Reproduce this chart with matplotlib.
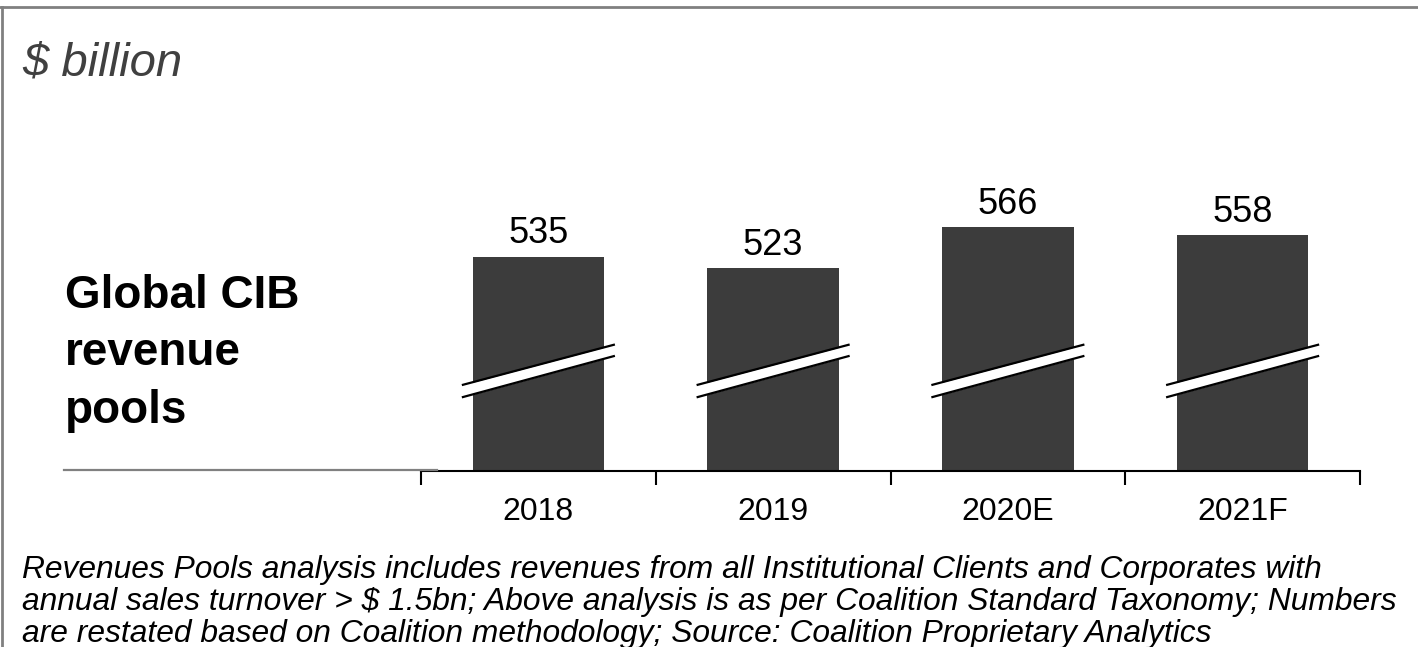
import matplotlib.pyplot as plt
from matplotlib.lines import Line2D
import numpy as np

# Dados ------------------------------------------
years = ['2018', '2019', '2020E', '2021F']
revenue = [535, 523, 566, 558]
unit_label = '$ billion'
side_title = 'Global CIB\nrevenue\npools'
footnote = ('Revenues Pools analysis includes revenues from all Institutional Clients and Corporates with\n'
            'annual sales turnover > $ 1.5bn; Above analysis is as per Coalition Standard Taxonomy; Numbers\n'
            'are restated based on Coalition methodology; Source: Coalition Proprietary Analytics')

W, H = 1418, 647
plt.rcParams['font.family'] = ['Liberation Sans', 'DejaVu Sans']

fig = plt.figure(figsize=(W / 100, H / 100), dpi=100)

# eixo principal em pixels
left, right, bottom, top = 421, 1360, 471, 150
ax = fig.add_axes([left / W, 1 - bottom / H, (right - left) / W, (bottom - top) / H])

x = np.arange(len(years))
ax.bar(x, revenue, width=0.56, color='#3c3c3c', zorder=2)
ax.set_xlim(-0.5, len(years) - 0.5)
ax.set_ylim(308, 648)

for xi, v in zip(x, revenue):
    ax.annotate(str(v), (xi, v), xytext=(0, 9.5), textcoords='offset points',
                ha='center', va='baseline', fontsize=26, color='black')

# marcas de quebra do eixo
for xi in x:
    xs = [xi - 0.326, xi + 0.326]
    up = [399, 442]
    lo = [386, 430]
    ax.fill_between(xs, lo, up, color='white', zorder=3, linewidth=0)
    ax.plot(xs, up, color='black', lw=1.6, zorder=4, solid_capstyle='butt')
    ax.plot(xs, lo, color='black', lw=1.6, zorder=4, solid_capstyle='butt')

# ticks nas fronteiras, rótulos no centro
ax.set_xticks(np.arange(-0.5, len(years)), labels=[''] * (len(years) + 1))
ax.set_xticks(x, labels=years, minor=True)
ax.tick_params(axis='x', which='major', length=10, width=1.5, direction='out', color='black')
ax.tick_params(axis='x', which='minor', length=0, pad=19, labelsize=23)
ax.set_yticks([])
for s in ['top', 'right', 'left']:
    ax.spines[s].set_visible(False)
ax.spines['bottom'].set_linewidth(1.5)

# textos (va='baseline' alinha pela última linha)
fig.text(22 / W, 1 - 75 / H, unit_label, fontsize=34, style='italic', color='#404040', va='baseline')
fig.text(65 / W, 1 - 423 / H, side_title, fontsize=33, weight='bold', color='black',
         va='baseline', linespacing=1.4)
fig.text(22 / W, 1 - 642 / H, footnote, fontsize=22.9, style='italic', color='black',
         va='baseline', linespacing=1.09)

# linhas decorativas
fig.add_artist(Line2D([64 / W, 437 / W], [1 - 470 / H, 1 - 470 / H], color='#808080', lw=1.6))
fig.add_artist(Line2D([0, 1], [1 - 7 / H, 1 - 7 / H], color='#808080', lw=2))
fig.add_artist(Line2D([1.5 / W, 1.5 / W], [0, 1 - 7 / H], color='#808080', lw=2))

plt.savefig('out.png', dpi=100)
plt.close()
